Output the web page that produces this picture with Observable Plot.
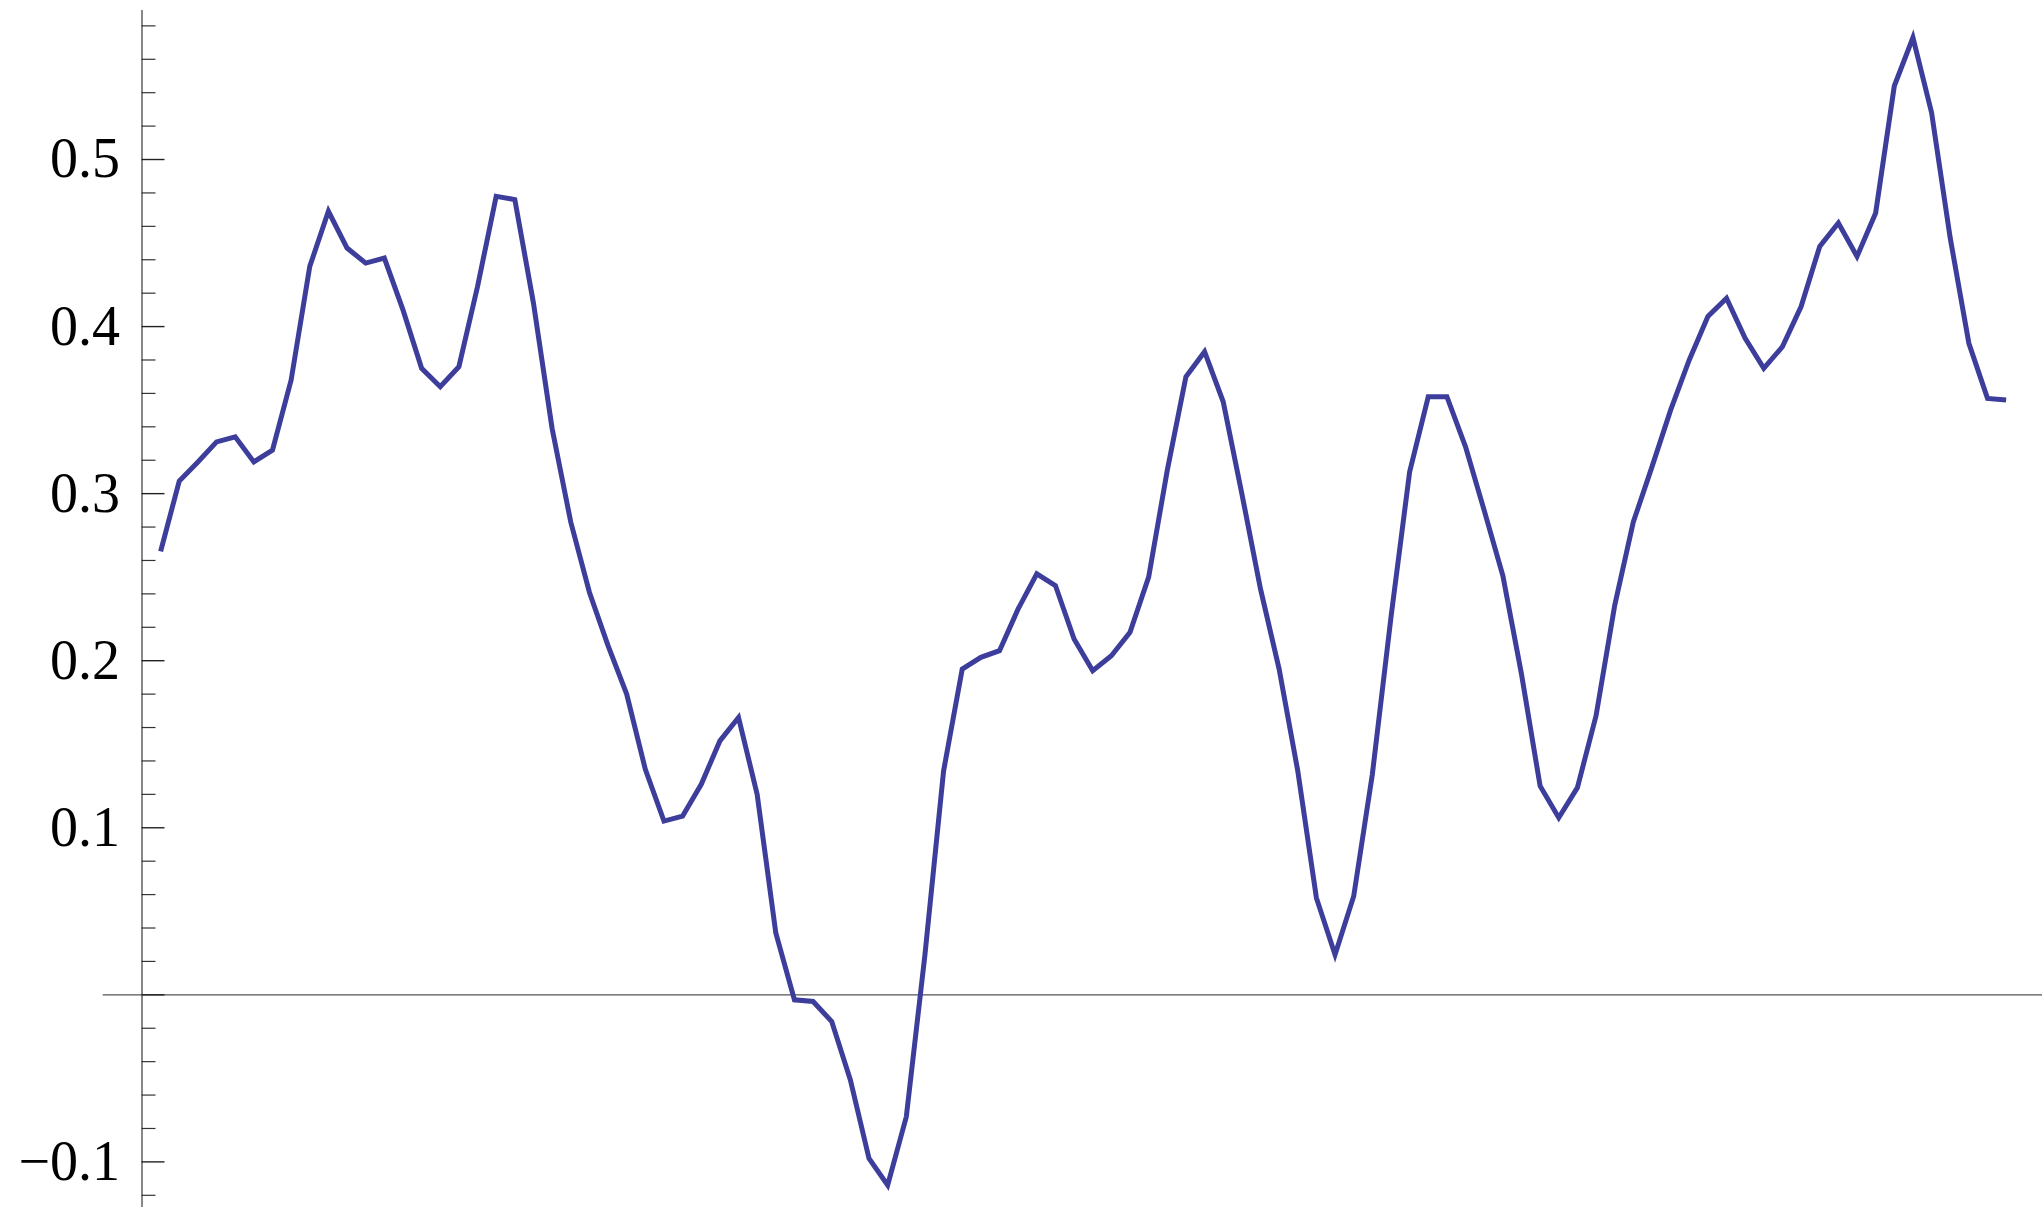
<!DOCTYPE html>
<html>
<head>
<meta charset="utf-8">
<script src="https://cdn.jsdelivr.net/npm/d3@7"></script>
<script src="https://cdn.jsdelivr.net/npm/@observablehq/plot@0.6"></script>
<style>
  html, body { margin: 0; padding: 0; background: #ffffff; }
  #chart svg { display: block; }
</style>
</head>
<body>
<div id="chart"></div>
<script>
// Series sampled at steps 1..100
const series = [
  0.2655, 0.3076, 0.319, 0.331, 0.334, 0.319, 0.326, 0.368, 0.436, 0.469,
  0.447, 0.438, 0.441, 0.410, 0.375, 0.364, 0.376, 0.424, 0.478, 0.476,
  0.414, 0.339, 0.283, 0.241, 0.209, 0.180, 0.135, 0.104, 0.107, 0.126,
  0.152, 0.166, 0.120, 0.037, -0.003, -0.004, -0.016, -0.051, -0.098, -0.114,
  -0.073, 0.024, 0.134, 0.195, 0.202, 0.206, 0.231, 0.252, 0.245, 0.213,
  0.194, 0.203, 0.217, 0.250, 0.314, 0.370, 0.385, 0.355, 0.300, 0.243,
  0.195, 0.134, 0.058, 0.024, 0.059, 0.132, 0.226, 0.313, 0.358, 0.358,
  0.328, 0.290, 0.251, 0.192, 0.125, 0.106, 0.124, 0.167, 0.233, 0.283,
  0.316, 0.350, 0.380, 0.406, 0.417, 0.393, 0.375, 0.388, 0.412, 0.448,
  0.462, 0.442, 0.468, 0.544, 0.573, 0.528, 0.453, 0.390, 0.357, 0.356
];

// Axis ticks
const majorTicks = [-0.1, 0, 0.1, 0.2, 0.3, 0.4, 0.5];
const minorTicks = [
  -0.12, -0.08, -0.06, -0.04, -0.02,
  0.02, 0.04, 0.06, 0.08,
  0.12, 0.14, 0.16, 0.18,
  0.22, 0.24, 0.26, 0.28,
  0.32, 0.34, 0.36, 0.38,
  0.42, 0.44, 0.46, 0.48,
  0.52, 0.54, 0.56, 0.58
];
const labelTicks = [-0.1, 0.1, 0.2, 0.3, 0.4, 0.5];
const tickLabels = ["\u22120.1", "0.1", "0.2", "0.3", "0.4", "0.5"];

const points = series.map((v, i) => ({step: i + 1, value: v}));

const axisColor = "#555555";
const lineColor = "#3d3d9c";

const chart = Plot.plot({
  width: 2042,
  height: 1207,
  marginLeft: 141.5,
  marginRight: 0,
  marginTop: 10,
  marginBottom: 0,
  x: {domain: [0, 101.95], axis: null},
  y: {domain: [-0.1273, 0.5892], label: null},
  style: {background: "#ffffff", fontFamily: "'Liberation Serif', 'DejaVu Serif', serif", color: "#000"},
  marks: [
    // horizontal axis through zero, starting a little left of the vertical axis
    Plot.ruleY([0], {x1: -2.08, x2: 101.95, stroke: axisColor, strokeWidth: 1.4}),
    // vertical axis line
    Plot.ruleX([0], {stroke: axisColor, strokeWidth: 1.4}),
    // inward minor ticks
    Plot.axisY(minorTicks, {tickSize: -14, fill: "none", stroke: "#333", strokeWidth: 1.2, label: null}),
    // inward major ticks
    Plot.axisY(majorTicks, {tickSize: -23, fill: "none", stroke: "#222", strokeWidth: 1.4, label: null}),
    // tick labels
    Plot.axisY(labelTicks, {
      tickSize: 0,
      tickPadding: 22,
      fontSize: 56,
      fill: "#000",
      label: null,
      tickFormat: (d) => tickLabels[labelTicks.indexOf(d)]
    }),
    // the series
    Plot.line(points, {
      x: "step",
      y: "value",
      stroke: lineColor,
      strokeWidth: 5,
      strokeLinejoin: "miter",
      strokeMiterlimit: 10,
      strokeLinecap: "butt"
    })
  ]
});

document.getElementById("chart").appendChild(chart);
</script>
</body>
</html>
